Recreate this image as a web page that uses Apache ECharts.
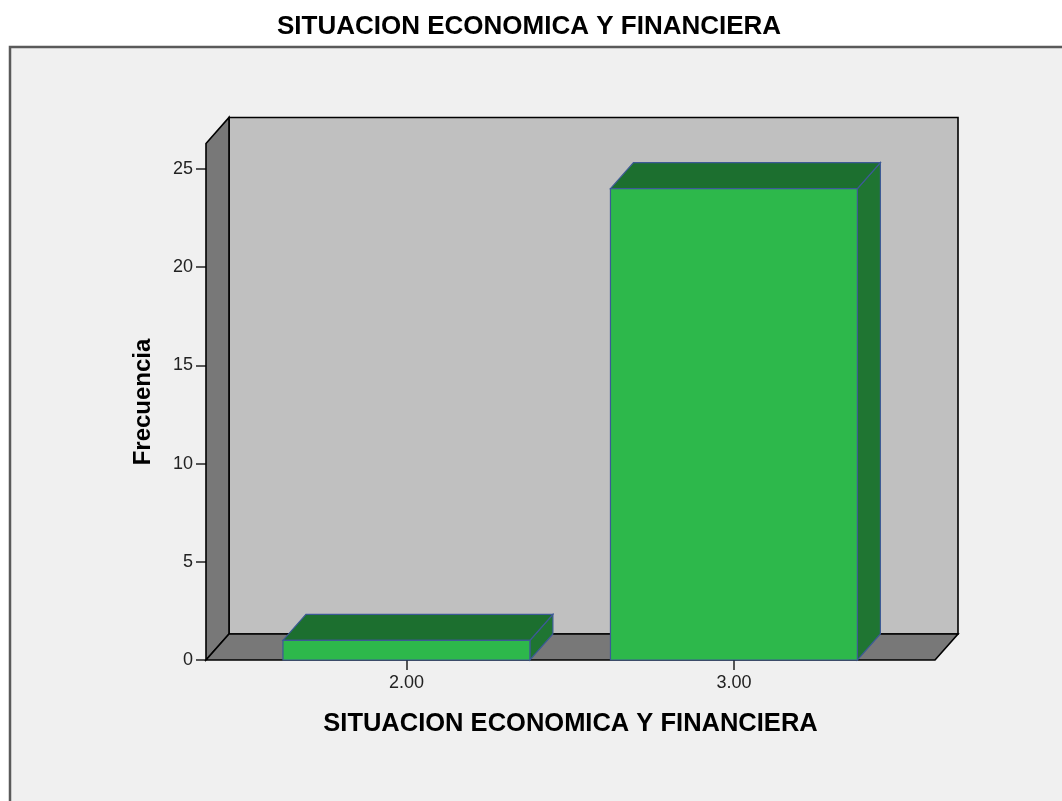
<!DOCTYPE html>
<html lang="es">
<head>
    <meta charset="UTF-8">
    <title>SITUACION ECONOMICA Y FINANCIERA</title>
    <script src="https://cdn.jsdelivr.net/npm/echarts@6/dist/echarts.min.js"></script>
    <style>
        html, body { margin: 0; padding: 0; background: #fff; }
        #main { width: 1062px; height: 801px; }
    </style>
</head>
<body>
<div id="main"></div>
<script>
    // datos
    var categories = [2, 3];
    var frecuencias = [1, 24];
    var yTicks = [0, 5, 10, 15, 20, 25];

    // extension de los ejes / paredes
    var xRange = [1.388, 3.614];
    var wallTop = 26.3;
    var barWidth = 0.754;

    var DX = 23, DY = 26;   // profundidad 3D en pixeles

    var barData = [];
    for (var i = 0; i < categories.length; i++) {
        barData.push([categories[i], frecuencias[i]]);
    }

    function shift(p) {
        return [p[0] + DX, p[1] - DY];
    }

    function renderWalls(params, api) {
        var fl = api.coord([xRange[0], 0]);
        var fr = api.coord([xRange[1], 0]);
        var tl = api.coord([xRange[0], wallTop]);
        var tr = api.coord([xRange[1], wallTop]);
        var edge = { stroke: '#000', lineWidth: 1.6 };
        return {
            type: 'group',
            children: [
                {
                    type: 'polygon',
                    shape: { points: [shift(fl), shift(fr), shift(tr), shift(tl)] },
                    style: Object.assign({ fill: '#c0c0c0' }, edge)
                },
                {
                    type: 'polygon',
                    shape: { points: [fl, tl, shift(tl), shift(fl)] },
                    style: Object.assign({ fill: '#787878' }, edge)
                },
                {
                    type: 'polygon',
                    shape: { points: [fl, fr, shift(fr), shift(fl)] },
                    style: Object.assign({ fill: '#787878' }, edge)
                }
            ]
        };
    }

    function renderBar(params, api) {
        var x = api.value(0);
        var v = api.value(1);
        var half = barWidth / 2;
        var bl = api.coord([x - half, 0]);
        var br = api.coord([x + half, 0]);
        var tl = api.coord([x - half, v]);
        var tr = api.coord([x + half, v]);
        var edge = { stroke: '#3c5a96', lineWidth: 1.2 };
        return {
            type: 'group',
            children: [
                {
                    type: 'polygon',
                    shape: { points: [tr, br, shift(br), shift(tr)] },
                    style: Object.assign({ fill: '#1f7532' }, edge)
                },
                {
                    type: 'polygon',
                    shape: { points: [tl, tr, shift(tr), shift(tl)] },
                    style: Object.assign({ fill: '#1c6f2f' }, edge)
                },
                {
                    type: 'polygon',
                    shape: { points: [bl, br, tr, tl] },
                    style: Object.assign({ fill: '#2db84b' }, edge)
                }
            ]
        };
    }

    var chart = echarts.init(document.getElementById('main'));

    var option = {
        backgroundColor: '#ffffff',
        animation: false,
        title: {
            text: 'SITUACION ECONOMICA Y FINANCIERA',
            left: 277,
            top: 14,
            padding: 0,
            textStyle: {
                fontFamily: 'Liberation Sans, Arial, sans-serif',
                fontSize: 26,
                fontWeight: 'bold',
                color: '#000'
            }
        },
        graphic: [
            {
                type: 'rect',
                z: -10,
                silent: true,
                shape: { x: 10, y: 47, width: 1100, height: 800 },
                style: { fill: '#f0f0f0', stroke: '#5a5a5a', lineWidth: 2.5 }
            },
            {
                type: 'text',
                x: 143,
                y: 402,
                rotation: Math.PI / 2,
                style: {
                    text: 'Frecuencia',
                    fontFamily: 'Liberation Sans, Arial, sans-serif',
                    fontSize: 24,
                    fontWeight: 'bold',
                    fill: '#000',
                    align: 'center',
                    verticalAlign: 'middle'
                }
            }
        ],
        grid: {
            left: 206,
            right: 127,
            top: 169,
            bottom: 141
        },
        xAxis: {
            type: 'value',
            min: xRange[0],
            max: xRange[1],
            name: 'SITUACION ECONOMICA Y FINANCIERA',
            nameLocation: 'middle',
            nameGap: 51,
            nameTextStyle: {
                fontFamily: 'Liberation Sans, Arial, sans-serif',
                fontSize: 25.5,
                fontWeight: 'bold',
                color: '#000'
            },
            axisLine: { show: false },
            splitLine: { show: false },
            axisTick: {
                show: true,
                customValues: categories,
                length: 10,
                lineStyle: { color: '#222', width: 1.5 }
            },
            axisLabel: {
                customValues: categories,
                margin: 14,
                fontFamily: 'Liberation Sans, Arial, sans-serif',
                fontSize: 18,
                color: '#222',
                formatter: function (v) { return v.toFixed(2); }
            }
        },
        yAxis: {
            type: 'value',
            min: 0,
            max: 25,
            interval: 5,
            axisLine: { show: false },
            splitLine: { show: false },
            axisTick: {
                show: true,
                customValues: yTicks,
                length: 10,
                lineStyle: { color: '#222', width: 1.5 }
            },
            axisLabel: {
                customValues: yTicks,
                margin: 13,
                fontFamily: 'Liberation Sans, Arial, sans-serif',
                fontSize: 18,
                color: '#222'
            }
        },
        series: [
            {
                type: 'custom',
                name: 'paredes',
                z: 1,
                silent: true,
                renderItem: renderWalls,
                data: [[xRange[0], 0]]
            },
            {
                type: 'custom',
                name: 'Frecuencia',
                z: 2,
                renderItem: renderBar,
                encode: { x: 0, y: 1 },
                data: barData
            }
        ]
    };

    chart.setOption(option);
</script>
</body>
</html>
